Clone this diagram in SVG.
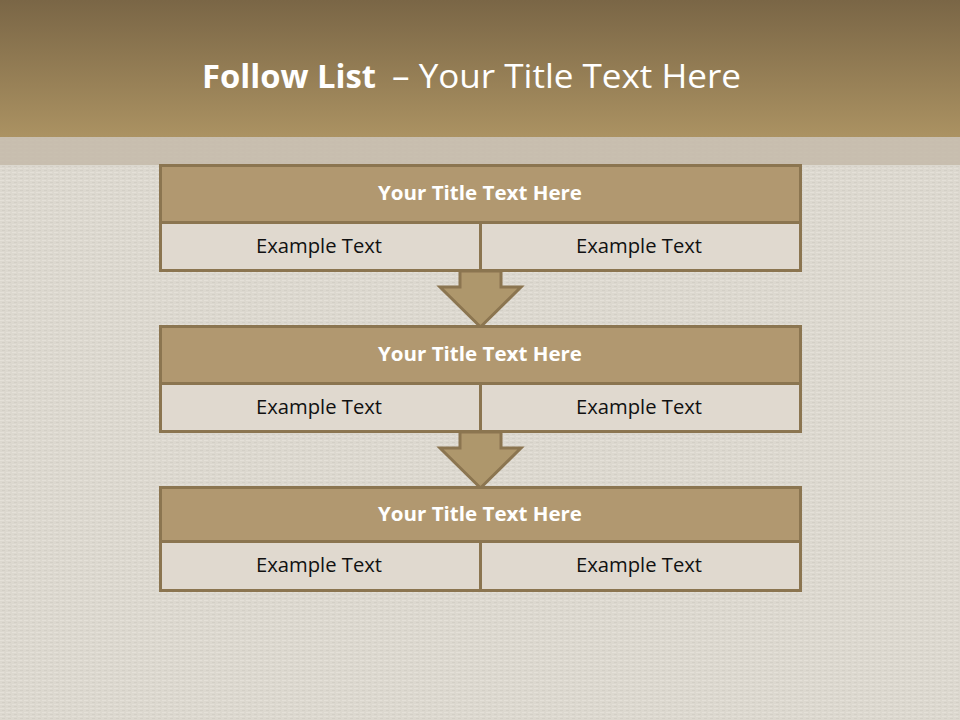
<svg xmlns="http://www.w3.org/2000/svg" width="960" height="720" viewBox="0 0 960 720">
<defs>
<linearGradient id="hdr" x1="0" y1="0" x2="0" y2="1">
<stop offset="0" stop-color="#7a6646"/>
<stop offset="1" stop-color="#ab9262"/>
</linearGradient>
<pattern id="tex" width="6" height="4" patternUnits="userSpaceOnUse">
<rect width="6" height="4" fill="#dcd8cf"/>
<rect y="0" width="4" height="1" fill="#e4e0d8"/>
<rect x="2" y="2" width="3" height="1" fill="#d3cfc6"/>
</pattern>
<style>
.tbox{fill:#b19870;stroke:#8b7550;stroke-width:3}
.cbox{fill:#e0d9cf;stroke:#8b7550;stroke-width:3}
.arrow{fill:#ae976c;stroke:#8b7550;stroke-width:3;stroke-linejoin:miter}
.ttl{font-family:"Open Sans","Liberation Sans",sans-serif;font-weight:bold;font-size:20px;fill:#ffffff;text-anchor:middle}
.ex{font-family:"Open Sans","Liberation Sans",sans-serif;font-size:20px;fill:#111111;text-anchor:middle}
.hd{font-family:"Open Sans","Liberation Sans",sans-serif;font-size:33px;fill:#ffffff}
</style>
</defs>
<rect width="960" height="720" fill="url(#tex)"/>
<rect width="960" height="137" fill="url(#hdr)"/>
<rect y="137" width="960" height="28" fill="#c4baa9" opacity="0.85"/>
<text class="hd" x="202" y="88" font-weight="bold" textLength="174" lengthAdjust="spacingAndGlyphs">Follow List</text>
<text class="hd" x="392" y="88" textLength="349" lengthAdjust="spacingAndGlyphs">– Your Title Text Here</text>
<g id="connectors">
<path class="arrow" d="M460,271 V287 H440 L480.5,327 L521,287 H501 V271 Z"/>
<path class="arrow" d="M460,432 V448 H440 L480.5,488 L521,448 H501 V432 Z"/>
</g>
<g id="node1">
<rect class="tbox" x="160.5" y="165.5" width="640" height="57"/>
<rect class="cbox" x="160.5" y="222.5" width="320" height="48"/>
<rect class="cbox" x="480.5" y="222.5" width="320" height="48"/>
<text class="ttl" x="480" y="200" textLength="204" lengthAdjust="spacingAndGlyphs">Your Title Text Here</text>
<text class="ex" x="319" y="253" textLength="126" lengthAdjust="spacingAndGlyphs">Example Text</text>
<text class="ex" x="639" y="253" textLength="126" lengthAdjust="spacingAndGlyphs">Example Text</text>
</g>
<g id="node2">
<rect class="tbox" x="160.5" y="326.5" width="640" height="57"/>
<rect class="cbox" x="160.5" y="383.5" width="320" height="48"/>
<rect class="cbox" x="480.5" y="383.5" width="320" height="48"/>
<text class="ttl" x="480" y="361" textLength="204" lengthAdjust="spacingAndGlyphs">Your Title Text Here</text>
<text class="ex" x="319" y="414" textLength="126" lengthAdjust="spacingAndGlyphs">Example Text</text>
<text class="ex" x="639" y="414" textLength="126" lengthAdjust="spacingAndGlyphs">Example Text</text>
</g>
<g id="node3">
<rect class="tbox" x="160.5" y="487.5" width="640" height="54"/>
<rect class="cbox" x="160.5" y="541.5" width="320" height="49"/>
<rect class="cbox" x="480.5" y="541.5" width="320" height="49"/>
<text class="ttl" x="480" y="521" textLength="204" lengthAdjust="spacingAndGlyphs">Your Title Text Here</text>
<text class="ex" x="319" y="572" textLength="126" lengthAdjust="spacingAndGlyphs">Example Text</text>
<text class="ex" x="639" y="572" textLength="126" lengthAdjust="spacingAndGlyphs">Example Text</text>
</g>
</svg>
